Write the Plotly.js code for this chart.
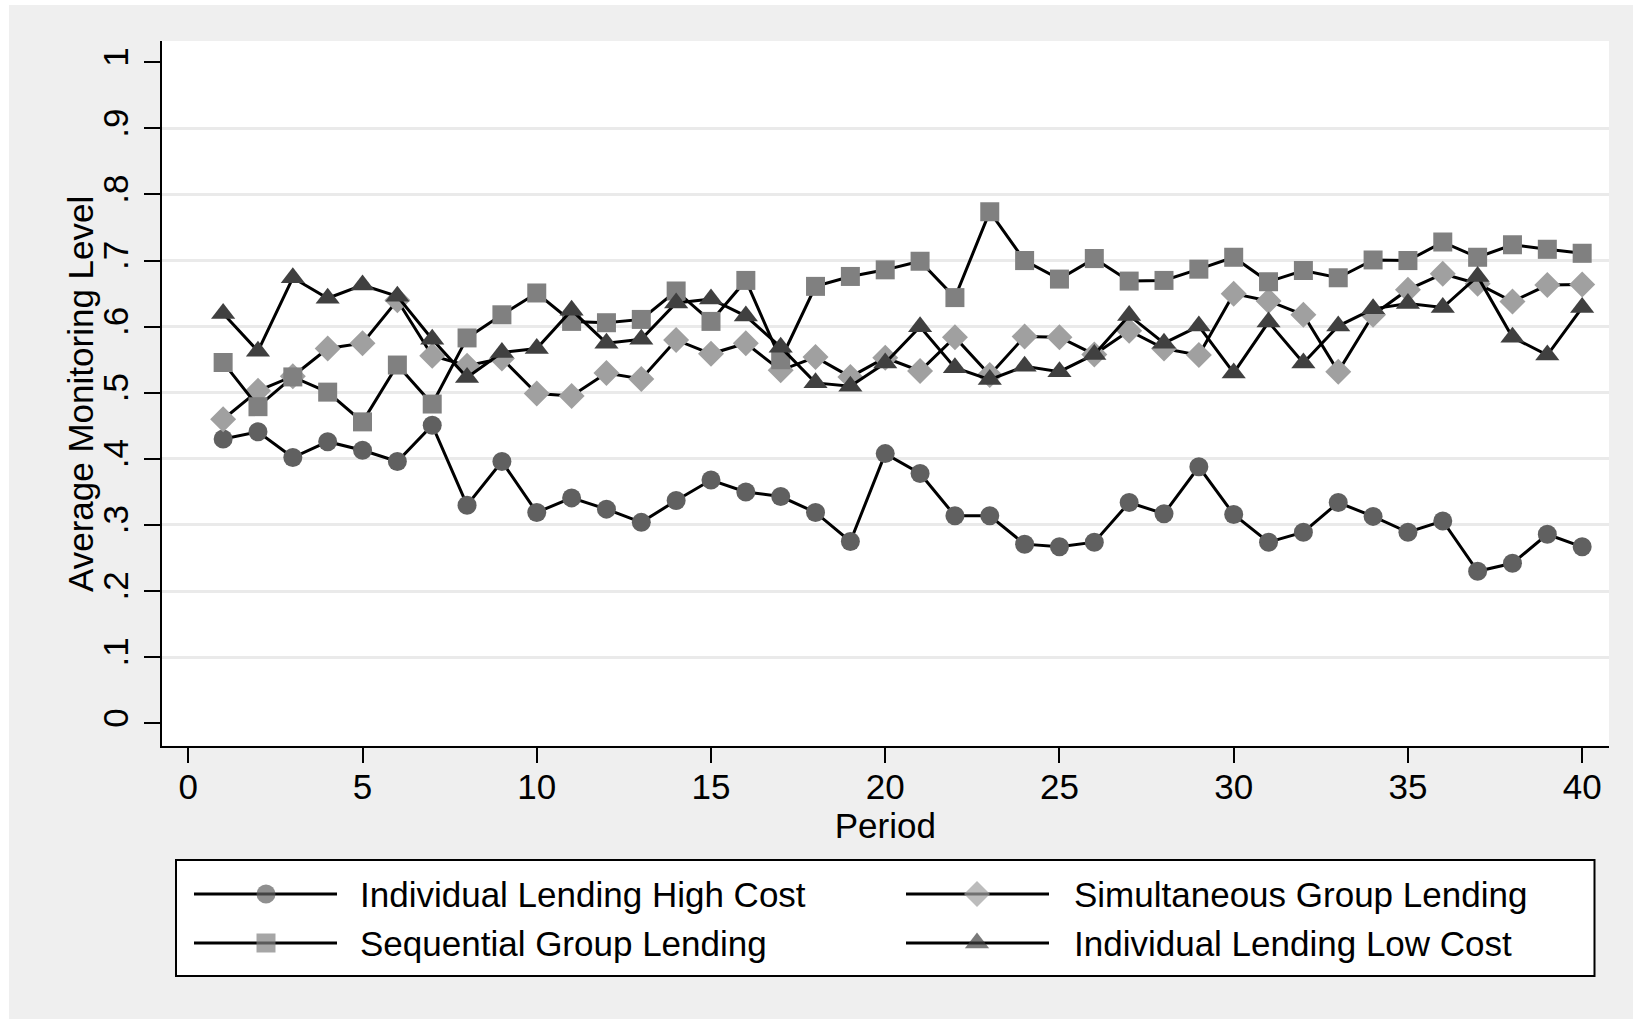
<!DOCTYPE html>
<html>
<head>
<meta charset="utf-8">
<script src="https://cdn.plot.ly/plotly-3.0.1.min.js"></script>
<style>
  html, body { margin: 0; padding: 0; background: #ffffff; }
  #chart { width: 1633px; height: 1019px; }
</style>
</head>
<body>
<div id="chart"></div>
<script>
// Average monitoring level per period, four lending treatments
const periods = [1, 2, 3, 4, 5, 6, 7, 8, 9, 10, 11, 12, 13, 14, 15, 16, 17, 18, 19, 20,
                 21, 22, 23, 24, 25, 26, 27, 28, 29, 30, 31, 32, 33, 34, 35, 36, 37, 38, 39, 40];

const individualHighCost = [0.430, 0.441, 0.402, 0.426, 0.413, 0.396, 0.451, 0.330, 0.396, 0.319,
                            0.341, 0.324, 0.304, 0.337, 0.368, 0.350, 0.343, 0.319, 0.275, 0.408,
                            0.378, 0.314, 0.314, 0.271, 0.267, 0.274, 0.334, 0.317, 0.388, 0.316,
                            0.274, 0.289, 0.334, 0.313, 0.289, 0.306, 0.230, 0.242, 0.286, 0.267];

const simultaneousGroup = [0.460, 0.503, 0.525, 0.567, 0.575, 0.640, 0.556, 0.541, 0.552, 0.499,
                           0.495, 0.530, 0.521, 0.580, 0.559, 0.575, 0.534, 0.554, 0.524, 0.553,
                           0.533, 0.584, 0.527, 0.585, 0.584, 0.558, 0.594, 0.567, 0.557, 0.650,
                           0.639, 0.618, 0.532, 0.618, 0.656, 0.680, 0.665, 0.638, 0.663, 0.664];

const sequentialGroup = [0.546, 0.479, 0.524, 0.501, 0.456, 0.542, 0.483, 0.583, 0.618, 0.651,
                         0.608, 0.606, 0.611, 0.654, 0.608, 0.670, 0.550, 0.661, 0.676, 0.686,
                         0.699, 0.644, 0.774, 0.700, 0.672, 0.703, 0.669, 0.670, 0.687, 0.705,
                         0.668, 0.685, 0.674, 0.701, 0.700, 0.728, 0.705, 0.724, 0.717, 0.711];

const individualLowCost = [0.620, 0.563, 0.674, 0.643, 0.663, 0.646, 0.581, 0.523, 0.561, 0.567,
                           0.625, 0.575, 0.581, 0.636, 0.642, 0.616, 0.569, 0.515, 0.510, 0.545,
                           0.600, 0.538, 0.520, 0.540, 0.532, 0.558, 0.617, 0.575, 0.601, 0.530,
                           0.607, 0.545, 0.601, 0.627, 0.635, 0.629, 0.676, 0.584, 0.557, 0.629];

const seriesNames = ['Individual Lending High Cost', 'Simultaneous Group Lending',
                     'Sequential Group Lending', 'Individual Lending Low Cost'];

const xTickVals = [0, 5, 10, 15, 20, 25, 30, 35, 40];
const yTickVals = [0, 0.1, 0.2, 0.3, 0.4, 0.5, 0.6, 0.7, 0.8, 0.9, 1];
const yTickText = ['0', '.1', '.2', '.3', '.4', '.5', '.6', '.7', '.8', '.9', '1'];
const yGridVals = [0.1, 0.2, 0.3, 0.4, 0.5, 0.6, 0.7, 0.8, 0.9];

const captionText = 'Figure 2: Average Monitoring Level, by Treatment';
const xTitle = 'Period';
const yTitle = 'Average Monitoring Level';

// ---- styling ----
const W = 1633, H = 1019;
const fx = p => p / W;          // pixel -> paper x
const fy = p => 1 - p / H;      // pixel -> paper y
const SANS = 'Liberation Sans, Arial, Helvetica, sans-serif';

const styles = [
  { symbol: 'circle',       size: 19, color: '#606060' },
  { symbol: 'diamond',      size: 20, color: '#a0a0a0' },
  { symbol: 'square',       size: 19, color: '#808080' },
  { symbol: 'triangle-up',  size: 21, color: '#404040' }
];
const seriesValues = [individualHighCost, simultaneousGroup, sequentialGroup, individualLowCost];

const traces = seriesValues.map((vals, i) => ({
  type: 'scatter',
  mode: 'lines+markers',
  name: seriesNames[i],
  x: periods,
  y: vals,
  xaxis: 'x', yaxis: 'y',
  line: { color: '#000000', width: 3 },
  marker: { symbol: styles[i].symbol, size: styles[i].size, color: styles[i].color, line: { width: 0 } },
  showlegend: false
}));

// legend keys, drawn on a pixel-space overlay axis pair
const keyCols = [{ x0: 194, xm: 266, x1: 337, tx: 358 }, { x0: 906, xm: 977, x1: 1049, tx: 1072 }];
const keyRows = [894, 943];
const annotations = [];
seriesNames.forEach((name, i) => {
  const c = keyCols[i % 2], r = keyRows[Math.floor(i / 2)];
  traces.push({
    type: 'scatter', mode: 'lines+markers',
    x: [c.x0, c.xm, c.x1], y: [r, r, r],
    xaxis: 'x2', yaxis: 'y2',
    line: { color: '#000000', width: 3 },
    marker: { symbol: styles[i].symbol, size: [0, styles[i].size, 0], color: styles[i].color, line: { width: 0 } },
    showlegend: false, hoverinfo: 'skip'
  });
  annotations.push({
    xref: 'paper', yref: 'paper', x: fx(c.tx), y: fy(r),
    xanchor: 'left', yanchor: 'middle', showarrow: false,
    text: name, font: { family: SANS, size: 35, color: '#000000' }
  });
});

// y-axis title
annotations.push({
  xref: 'paper', yref: 'paper', x: fx(81), y: fy(394),
  xanchor: 'center', yanchor: 'middle', showarrow: false, textangle: -90,
  text: yTitle, font: { family: SANS, size: 35, color: '#000000' }
});

// caption line above the graph region (mostly outside the canvas)
annotations.push({
  xref: 'paper', yref: 'paper', x: fx(2), y: fy(-15),
  xanchor: 'left', yanchor: 'middle', showarrow: false,
  text: captionText,
  font: { family: 'Liberation Serif, Times New Roman, serif', size: 26, color: '#000000', weight: 'bold' }
});

const shapes = [
  // white page strips
  { type: 'rect', xref: 'paper', yref: 'paper', x0: 0, x1: 1, y0: fy(5), y1: 1, layer: 'below',
    fillcolor: '#ffffff', line: { width: 0 } },
  { type: 'rect', xref: 'paper', yref: 'paper', x0: 0, x1: fx(9), y0: 0, y1: 1, layer: 'below',
    fillcolor: '#ffffff', line: { width: 0 } },
  // plot region
  { type: 'rect', xref: 'paper', yref: 'paper', x0: fx(161.7), x1: fx(1609), y0: fy(745.7), y1: fy(41),
    layer: 'below', fillcolor: '#ffffff', line: { width: 0 } },
  // legend box
  { type: 'rect', xref: 'paper', yref: 'paper', x0: fx(176), x1: fx(1594.5), y0: fy(976), y1: fy(860),
    layer: 'below', fillcolor: '#ffffff', line: { color: '#000000', width: 2 } }
];

const layout = {
  width: W, height: H,
  margin: { l: 0, r: 0, t: 0, b: 0 },
  paper_bgcolor: '#efefef',
  plot_bgcolor: 'rgba(0,0,0,0)',
  showlegend: false,
  font: { family: SANS, color: '#000000' },
  xaxis: {
    domain: [fx(161.7), fx(1609)], range: [-0.763, 40.77], anchor: 'y',
    tickmode: 'array', tickvals: xTickVals,
    ticks: 'outside', ticklen: 15, tickwidth: 2, tickcolor: '#000000',
    ticklabelstandoff: -6,
    showline: true, linewidth: 2, linecolor: '#000000',
    showgrid: false, zeroline: false,
    tickfont: { family: SANS, size: 35, color: '#000000' },
    title: { text: xTitle, font: { family: SANS, size: 35, color: '#000000' }, standoff: 0 }
  },
  yaxis: {
    domain: [fy(745.7), fy(41)], range: [-0.0339, 1.0322], anchor: 'x',
    tickmode: 'array', tickvals: yTickVals, ticktext: yTickText, tickangle: -90,
    ticks: 'outside', ticklen: 16, tickwidth: 2, tickcolor: '#000000',
    ticklabelstandoff: 2,
    showline: true, linewidth: 2, linecolor: '#000000',
    showgrid: false, zeroline: false,
    minor: { tickmode: 'array', tickvals: yGridVals, showgrid: true, gridcolor: '#eaeaea', gridwidth: 3, ticks: '' },
    tickfont: { family: SANS, size: 35, color: '#000000' }
  },
  xaxis2: { domain: [0, 1], range: [0, W], anchor: 'y2', visible: false, fixedrange: true },
  yaxis2: { domain: [0, 1], range: [H, 0], anchor: 'x2', visible: false, fixedrange: true },
  shapes: shapes,
  annotations: annotations
};

Plotly.newPlot('chart', traces, layout, { displayModeBar: false, staticPlot: true });
</script>
</body>
</html>
